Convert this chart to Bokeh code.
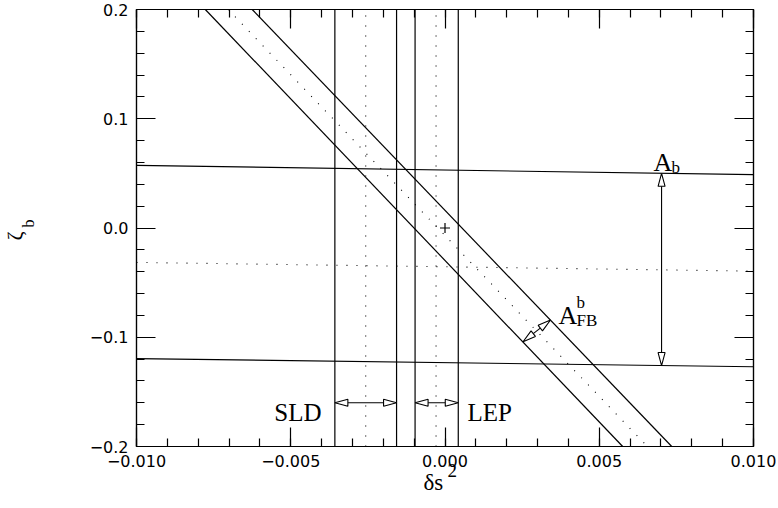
import math
from bokeh.plotting import figure
from bokeh.models import Range1d, LinearAxis, FixedTicker, Label
from bokeh.embed import file_html
from bokeh.resources import INLINE

# ---------------- data ----------------
x_major = [-0.010, -0.005, 0.000, 0.005, 0.010]
x_major_labels = ["\u22120.010", "\u22120.005", "0.000", "0.005", "0.010"]
x_minor = [round(-0.010 + 0.001 * i, 3) for i in range(21)]
y_major = [-0.2, -0.1, 0.0, 0.1, 0.2]
y_major_labels = ["\u22120.2", "\u22120.1", "0.0", "0.1", "0.2"]
y_minor = [round(-0.2 + 0.02 * i, 2) for i in range(21)]

ab_x = [-0.010, 0.010]
ab_upper = [0.0573, 0.0488]
ab_lower = [-0.1195, -0.1270]
ab_central = [-0.0315, -0.0395]

fb_y = [0.2, -0.2]
fb_left = [-0.00777, 0.00576]
fb_right = [-0.00625, 0.00735]
fb_central = [-0.00703, 0.00656]

sld_lo, sld_c, sld_hi = -0.00357, -0.00257, -0.00157
lep_lo, lep_c, lep_hi = -0.00097, -0.00029, 0.00043

sm_x = [0.0]
sm_y = [0.0]

band_arrow_y = -0.160
ab_arrow_x = 0.00702
afb_arrow = [(0.00253, -0.1041), (0.00342, -0.0842)]

# ---------------- figure ----------------
X0, X1, Y0, Y1 = -0.010, 0.010, -0.2, 0.2
FL, FT, FW, FH = 136, 9, 617, 437
W, H = 778, 508

p = figure(width=W, height=H, x_range=Range1d(X0, X1), y_range=Range1d(Y0, Y1),
           output_backend="svg", toolbar_location=None,
           min_border_left=FL, min_border_top=FT,
           min_border_right=W - FL - FW, min_border_bottom=H - FT - FH)
p.grid.visible = False
p.outline_line_color = "black"
p.outline_line_width = 1.2
p.background_fill_color = "white"
p.border_fill_color = "white"

p.add_layout(LinearAxis(), "above")
p.add_layout(LinearAxis(), "right")


def style_axis(ax, major, minor, labels):
    ax.ticker = FixedTicker(ticks=major, minor_ticks=minor)
    ax.major_tick_in = 19
    ax.major_tick_out = 0
    ax.minor_tick_in = 8
    ax.minor_tick_out = 0
    ax.axis_line_color = "black"
    ax.axis_line_width = 1.2
    ax.major_tick_line_color = "black"
    ax.major_tick_line_width = 1.2
    ax.minor_tick_line_color = "black"
    ax.minor_tick_line_width = 1.2
    ax.major_label_text_font = "DejaVu Sans"
    ax.major_label_text_font_size = "16px"
    ax.major_label_text_color = "black"
    ax.major_label_standoff = 8
    if labels is None:
        ax.major_label_text_font_size = "0px"
        ax.major_label_standoff = 0
        ax.major_label_text_color = None
    else:
        ax.major_label_overrides = {t: l for t, l in zip(major, labels)}


style_axis(p.below[0], x_major, x_minor, x_major_labels)
style_axis(p.above[0], x_major, x_minor, None)
style_axis(p.left[0], y_major, y_minor, y_major_labels)
style_axis(p.right[0], y_major, y_minor, None)

LW = 1.2
sx0, sy0, sx1, sy1 = [], [], [], []
for ys in (ab_upper, ab_lower):
    sx0.append(ab_x[0]); sy0.append(ys[0]); sx1.append(ab_x[1]); sy1.append(ys[1])
for xs in (fb_left, fb_right):
    sx0.append(xs[0]); sy0.append(fb_y[0]); sx1.append(xs[1]); sy1.append(fb_y[1])
for xv in (sld_lo, sld_hi, lep_lo, lep_hi):
    sx0.append(xv); sy0.append(Y0); sx1.append(xv); sy1.append(Y1)
p.segment(sx0, sy0, sx1, sy1, line_color="black", line_width=LW)

dx0 = [ab_x[0], fb_central[0], sld_c, lep_c]
dy0 = [ab_central[0], fb_y[0], Y0, Y0]
dx1 = [ab_x[1], fb_central[1], sld_c, lep_c]
dy1 = [ab_central[1], fb_y[1], Y1, Y1]
p.segment(dx0, dy0, dx1, dy1, line_color="black", line_width=1.1, line_dash="1 9")

p.scatter(sm_x, sm_y, marker="cross", size=10, line_color="black", line_width=1.2)

kx = FW / (X1 - X0)
ky = FH / (Y1 - Y0)


def head(tip, other, L=13.0, Wd=7.0):
    tx, ty = tip[0] * kx, tip[1] * ky
    ox, oy = other[0] * kx, other[1] * ky
    dx, dy = tx - ox, ty - oy
    n = math.hypot(dx, dy)
    ux, uy = dx / n, dy / n
    bx, by = tx - L * ux, ty - L * uy
    px_, py_ = -uy, ux
    xs = [tx, bx + Wd / 2 * px_, bx - Wd / 2 * px_]
    ys = [ty, by + Wd / 2 * py_, by - Wd / 2 * py_]
    return [v / kx for v in xs], [v / ky for v in ys], (bx / kx, by / ky)


def y_on(line, x):
    return line[0] + (line[1] - line[0]) * (x - ab_x[0]) / (ab_x[1] - ab_x[0])


arrows = [
    ((sld_lo, band_arrow_y), (sld_hi, band_arrow_y)),
    ((lep_lo, band_arrow_y), (lep_hi, band_arrow_y)),
    ((ab_arrow_x, y_on(ab_upper, ab_arrow_x)), (ab_arrow_x, y_on(ab_lower, ab_arrow_x))),
    (afb_arrow[0], afb_arrow[1]),
]
hx, hy, shx0, shy0, shx1, shy1 = [], [], [], [], [], []
for a, b in arrows:
    xa, ya, ba = head(a, b)
    xb, yb, bb = head(b, a)
    hx += [xa, xb]
    hy += [ya, yb]
    shx0.append(ba[0]); shy0.append(ba[1]); shx1.append(bb[0]); shy1.append(bb[1])
p.segment(shx0, shy0, shx1, shy1, line_color="black", line_width=1.1)
p.patches(hx, hy, fill_color="white", line_color="black", line_width=1.1)

SERIF = "Liberation Serif"


def mk(x, y, text, size, align="left", angle=0.0, units="data"):
    return Label(x=x, y=y, text=text, text_font=SERIF, text_font_size=size,
                 text_color="black", text_align=align, text_baseline="alphabetic",
                 angle=angle, x_units=units, y_units=units)


for args in [(-0.0040, -0.169, "SLD", "25px", "right"),
             (0.00073, -0.169, "LEP", "25px"),
             (0.00676, 0.0597, "A", "26px"),
             (0.00734, 0.0550, "b", "17px"),
             (0.00368, -0.0802, "A", "26px"),
             (0.00426, -0.0684, "b", "17px"),
             (0.00426, -0.0848, "FB", "17px")]:
    p.add_layout(mk(*args))

# axis titles placed in the side panels (offsets in panel pixels)
p.add_layout(mk(287, 12, "\u03b4s", "23px", units="screen"), "below")
p.add_layout(mk(311, 37, "2", "19px", units="screen"), "below")
p.add_layout(mk(-47, 206, "\u03b6", "22px", angle=math.pi / 2, units="screen"), "left")
p.add_layout(mk(-16, 219, "b", "16px", angle=math.pi / 2, units="screen"), "left")

open("out.html", "w").write(file_html(p, INLINE))
